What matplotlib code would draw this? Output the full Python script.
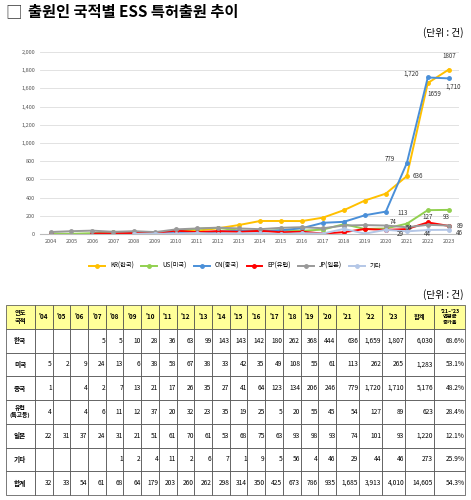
import matplotlib
matplotlib.use("Agg")
import matplotlib.pyplot as plt
import numpy as np

plt.rcParams['font.family'] = ['Noto Sans CJK KR', 'DejaVu Sans']

years = list(range(2004, 2024))
nan = np.nan
kr = [nan, nan, nan, 5, 5, 10, 28, 36, 63, 99, 143, 143, 142, 180, 262, 368, 444, 636, 1659, 1807]
us = [5, 2, 9, 24, 13, 6, 38, 58, 67, 38, 33, 42, 35, 49, 108, 55, 61, 113, 262, 265]
cn = [1, nan, 4, 2, 7, 13, 21, 17, 26, 35, 27, 41, 64, 123, 134, 206, 246, 779, 1720, 1710]
ep = [4, nan, 4, 6, 11, 12, 37, 20, 32, 23, 35, 19, 25, 5, 20, 55, 45, 54, 127, 89]
jp = [22, 31, 37, 24, 31, 21, 51, 61, 70, 61, 53, 68, 75, 63, 93, 98, 93, 74, 101, 93]
etc = [nan, nan, nan, nan, 1, 2, 4, 11, 2, 6, 7, 1, 9, 5, 56, 4, 46, 29, 44, 46]
totals = [32, 33, 54, 61, 68, 64, 179, 203, 260, 262, 298, 314, 350, 425, 673, 786, 935, 1685, 3913, 4010]
sums = ["6,030", "1,283", "5,176", "623", "1,220", "273", "14,605"]
growth = ["68.6%", "53.1%", "48.2%", "28.4%", "12.1%", "25.9%", "54.3%"]
series_names = ["KR(한국)", "US(미국)", "CN(중국)", "EP(유럽)", "JP(일본)", "기타"]
row_names = ["한국", "미국", "중국", "유럽\n(특고등)", "일본", "기타", "합계"]
colors = ["#FFC000", "#92D050", "#4A8FD8", "#FF0000", "#999999", "#B4C7E7"]

fig = plt.figure(figsize=(4.71, 5.0), dpi=100)
fig.text(0.012, 0.975, "□", fontsize=12, va="center", color="#333")
fig.text(0.06, 0.975, "출원인 국적별 ESS 특허출원 추이", fontsize=11, va="center", fontweight="bold")
fig.text(0.985, 0.935, "(단위 : 건)", fontsize=7, ha="right", va="center")

ax = fig.add_axes([0.085, 0.532, 0.89, 0.364])
data = [kr, us, cn, ep, jp, etc]
for d, c, n in zip(data, colors, series_names):
    ax.plot(years, d, color=c, lw=1.4, marker="o", ms=2.5, label=n)
ax.set_ylim(0, 2000)
ax.set_xlim(2003.5, 2023.5)
ax.set_yticks(range(0, 2001, 200))
ax.set_yticklabels([f"{v:,}" for v in range(0, 2001, 200)], fontsize=4, color="#555")
ax.set_xticks(years)
ax.set_xticklabels([str(y) for y in years], fontsize=4, color="#555")
ax.grid(axis="y", color="#dddddd", lw=0.6)
for s in ["top", "right", "left"]:
    ax.spines[s].set_visible(False)
ax.spines["bottom"].set_color("#bbb")
ax.tick_params(length=0)
ann = [(2023, 1807, "1807", 0, 10), (2022, 1720, "1,720", -12, 3), (2022, 1659, "1659", 5, -8),
       (2023, 1710, "1,710", 3, -6), (2021, 779, "779", -12, 3), (2021, 636, "636", 8, 0),
       (2021, 113, "113", -3, 8), (2021, 74, "74", -10, 4), (2023, 93, "93", -2, 6),
       (2023, 89, "89", 8, 0), (2023, 46, "46", 8, -2), (2022, 127, "127", 0, 4),
       (2021, 54, "54", 2, 1), (2021, 29, "29", -5, -2), (2022, 44, "44", 0, -3)]
for x, y, t, dx, dy in ann:
    ax.annotate(t, (x, y), xytext=(dx, dy), textcoords="offset points", fontsize=4.5,
                ha="center", va="center", color="#333")
fig.legend(*ax.get_legend_handles_labels(), loc="center", bbox_to_anchor=(0.5, 0.468),
           ncol=6, fontsize=4.5, frameon=False, handlelength=2.5, columnspacing=1.2)

fig.text(0.985, 0.41, "(단위 : 건)", fontsize=7, ha="right", va="center")

tax = fig.add_axes([0.012, 0.01, 0.976, 0.38])
tax.axis("off")
def fmt(v):
    return "" if (isinstance(v, float) and np.isnan(v)) else f"{int(v):,}"
header = ["연도\n국적"] + ["'" + str(y)[2:] for y in years] + ["합계", "'21~'23\n연평균\n증가율"]
rows = []
for i, d in enumerate(data + [totals]):
    rows.append([row_names[i]] + [fmt(v) for v in d] + [sums[i], growth[i]])
widths = [28] + [17] * 17 + [22, 22, 22] + [28, 30]
widths = [w / sum(widths) for w in widths]
tbl = tax.table(cellText=[header] + rows, colWidths=widths, bbox=[0, 0, 1, 1], cellLoc="right")
tbl.auto_set_font_size(False)
for (r, c), cell in tbl.get_celld().items():
    cell.set_linewidth(0.5)
    cell.set_edgecolor("#444")
    cell.PAD = 0.03
    t = cell.get_text()
    t.set_fontsize(4.8)
    if r == 0:
        cell.set_facecolor("#FFFF99")
        t.set_fontweight("bold")
        t.set_ha("center")
        t.set_fontsize(4.5 if c < len(header) - 1 else 3.8)
    if c == 0:
        t.set_ha("center")
        t.set_fontweight("bold")
        if r == 4:
            t.set_fontsize(4.2)
fig.savefig("out.png", dpi=100)
